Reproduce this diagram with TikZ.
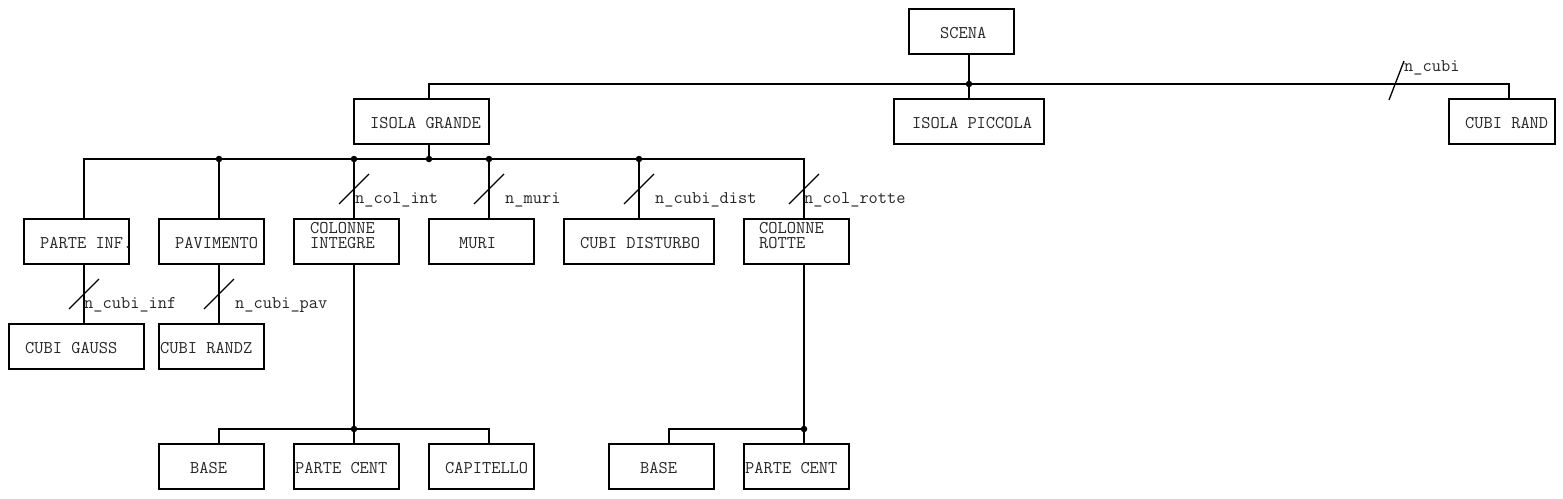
\documentclass[tikz,border=0pt]{standalone}
\usepackage{fontspec}
\usetikzlibrary{calc}
\begin{document}
\begin{tikzpicture}[x=1pt,y=-1pt,
  box/.style={draw, line width=1.3pt, inner sep=0, minimum width=105pt, minimum height=45pt},
  txt/.style={inner sep=0, anchor=base west, font=\ttfamily\fontsize{17.9}{15}\selectfont, text=black!85},
  wire/.style={line width=1.3pt},
  slash/.style={line width=1.3pt},
  dot/.style={circle, fill, inner sep=0, minimum size=6.5pt}]
\useasboundingbox (0,0) rectangle (1563,498);
% boxes
\node[box] (scena) at (961.5,31.5) {};
\node[box, minimum width=135pt] (ig) at (421.5,121.5) {};
\node[box, minimum width=150pt] (ip) at (969,121.5) {};
\node[box, minimum width=106pt] (cr) at (1502,121.5) {};
\node[box] (pi) at (76.5,241.5) {};
\node[box] (pav) at (211.5,241.5) {};
\node[box] (ci) at (346.5,241.5) {};
\node[box] (muri) at (481.5,241.5) {};
\node[box, minimum width=150pt] (cd) at (639,241.5) {};
\node[box] (cro) at (796.5,241.5) {};
\node[box, minimum width=135pt] (cg) at (76.5,346.5) {};
\node[box] (crz) at (211.5,346.5) {};
\node[box] (b1) at (211.5,466.5) {};
\node[box] (pc1) at (346.5,466.5) {};
\node[box] (cap) at (481.5,466.5) {};
\node[box] (b2) at (661.5,466.5) {};
\node[box] (pc2) at (796.5,466.5) {};
% texts
\node[txt] (tscena) at (940,38) {SCENA};
\node[txt] (tig) at (370,128) {ISOLA GRANDE};
\node[txt] (tip) at (912,128) {ISOLA PICCOLA};
\node[txt] (tcr) at (1465,128) {CUBI RAND};
\node[txt] (tpi) at (40,248) {PARTE INF.};
\node[txt] (tpav) at (175,248) {PAVIMENTO};
\node[txt] (tci1) at (310,233) {COLONNE};
\node[txt] (tci2) at (310,248) {INTEGRE};
\node[txt] (tmuri) at (459,248) {MURI};
\node[txt] (tcd) at (580,248) {CUBI DISTURBO};
\node[txt] (tcro1) at (759,233) {COLONNE};
\node[txt] (tcro2) at (759,248) {ROTTE};
\node[txt] (tcg) at (25,353) {CUBI GAUSS};
\node[txt] (tcrz) at (160,353) {CUBI RANDZ};
\node[txt] (tb1) at (190,473) {BASE};
\node[txt] (tpc1) at (295,473) {PARTE CENT};
\node[txt] (tcap) at (445,473) {CAPITELLO};
\node[txt] (tb2) at (640,473) {BASE};
\node[txt] (tpc2) at (745,473) {PARTE CENT};
% labels
\node[txt] (lcubi) at (1404,71) {n\_cubi};
\node[txt] (lcolint) at (355,203) {n\_col\_int};
\node[txt] (lmuri) at (505,203) {n\_muri};
\node[txt] (lcubidist) at (655,203) {n\_cubi\_dist};
\node[txt] (lcolrotte) at (804,203) {n\_col\_rotte};
\node[txt] (lcubiinf) at (84,308) {n\_cubi\_inf};
\node[txt] (lcubipav) at (235,308) {n\_cubi\_pav};
% level 1
\coordinate (a0) at (969,84);
\coordinate (a1) at (429,84);
\coordinate (a2) at (1509,84);
\draw[wire] (scena.south -| a0) -- (ip.north -| a0);
\draw[wire] (ig.north -| a1) -- (a1) -- (a2) -- (cr.north -| a2);
\node[dot] (d0) at (a0) {};
% level 2
\coordinate (b0) at (429,159);
\coordinate (bl) at (84,159);
\coordinate (br) at (804,159);
\coordinate (jpav) at (219,159);
\coordinate (jci) at (354,159);
\coordinate (jmuri) at (489,159);
\coordinate (jcd) at (639,159);
\draw[wire] (ig.south -| b0) -- (b0);
\draw[wire] (pi.north -| bl) -- (bl) -- (br) -- (cro.north -| br);
\draw[wire] (jpav) -- (pav.north -| jpav);
\draw[wire] (jci) -- (ci.north -| jci);
\draw[wire] (jmuri) -- (muri.north -| jmuri);
\draw[wire] (jcd) -- (cd.north -| jcd);
\foreach \j in {b0,jpav,jci,jmuri,jcd} \node[dot] (d\j) at (\j) {};
% level 3
\draw[wire] (pi.south -| bl) -- (cg.north -| bl);
\draw[wire] (pav.south -| jpav) -- (crz.north -| jpav);
% level 4
\coordinate (c1) at (354,429);
\coordinate (c1l) at (219,429);
\coordinate (c1r) at (489,429);
\coordinate (c2) at (804,429);
\coordinate (c2l) at (669,429);
\draw[wire] (ci.south -| c1) -- (pc1.north -| c1);
\draw[wire] (b1.north -| c1l) -- (c1l) -- (c1r) -- (cap.north -| c1r);
\draw[wire] (cro.south -| c2) -- (pc2.north -| c2);
\draw[wire] (b2.north -| c2l) -- (c2l) -- (c2);
\node[dot] (dc1) at (c1) {};
\node[dot] (dc2) at (c2) {};
% slashes
\coordinate (s0) at (1396.5,80.5);
\draw[slash] ($(s0)+(-7.5,19.5)$) -- ($(s0)+(7.5,-19.5)$);
\foreach \p in {(354,189),(489,189),(639,189),(804,189),(84,294),(219,294)}
  \draw[slash] \p ++(-15,15) -- ++(30,-30);
\end{tikzpicture}
\end{document}
